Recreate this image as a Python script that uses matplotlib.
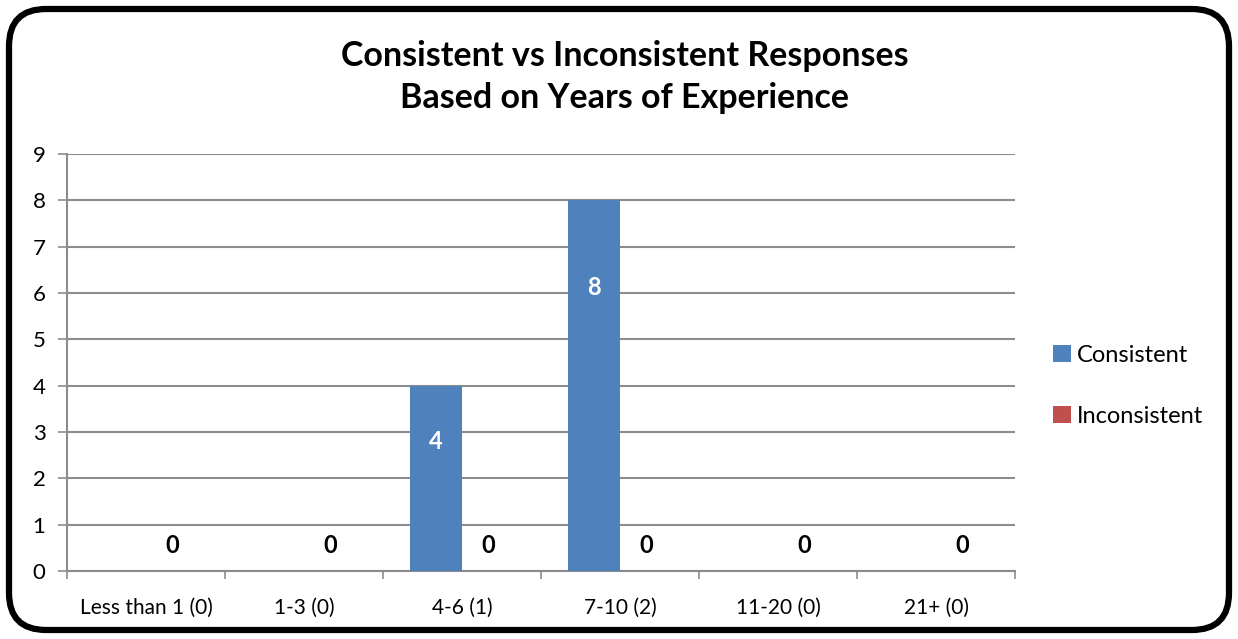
import matplotlib.pyplot as plt
import numpy as np
from matplotlib.patches import FancyBboxPatch

# data
categories = ['Less than 1 (0)', '1-3 (0)', '4-6 (1)', '7-10 (2)', '11-20 (0)', '21+ (0)']
consistent = [0, 0, 4, 8, 0, 0]
inconsistent = [0, 0, 0, 0, 0, 0]
series_names = ['Consistent', 'Inconsistent']

plt.rcParams['font.family'] = ['Lato', 'DejaVu Sans']

fig = plt.figure(figsize=(12.38, 6.39), dpi=100)
ax = fig.add_axes([67 / 1238, 1 - 571 / 639, (1015 - 67) / 1238, (571 - 154) / 639])

x = np.arange(len(categories))
w = 0.33
b1 = ax.bar(x - w / 2, consistent, w, color='#4F81BD', label=series_names[0], zorder=3)
b2 = ax.bar(x + w / 2, inconsistent, w, color='#C0504D', label=series_names[1], zorder=3)

# value labels
for xi, v in zip(x, consistent):
    if v > 0:
        ax.text(xi - w / 2, v * 0.83 - 0.53, str(v), ha='center', va='center',
                color='white', fontsize=17, fontweight='bold', zorder=4)
for xi, v in zip(x, inconsistent):
    ax.text(xi + w / 2, v + 0.56, str(v), ha='center', va='center',
            color='black', fontsize=17, fontweight='bold', zorder=4)

ax.set_xlim(-0.5, len(categories) - 0.5)
ax.set_ylim(0, 9)
ax.set_yticks(range(10))
ax.yaxis.grid(True, color='#8c8c8c', linewidth=1.5, zorder=0)
ax.tick_params(axis='y', length=6.5, width=1.2, color='#8c8c8c', labelsize=16, pad=9)

ax.set_xticks(np.arange(-0.5, len(categories), 1))
ax.set_xticklabels([])
ax.tick_params(axis='x', which='major', length=6, width=1.2, color='#8c8c8c')
ax.set_xticks(x, minor=True)
ax.set_xticklabels(categories, minor=True)
ax.tick_params(axis='x', which='minor', length=0, labelsize=15, pad=19)

for s in ['top', 'right']:
    ax.spines[s].set_visible(False)
for s in ['left', 'bottom']:
    ax.spines[s].set_color('#8c8c8c')
    ax.spines[s].set_linewidth(1.5)

fig.text(625 / 1238, 1 - 77 / 639, 'Consistent vs Inconsistent Responses\nBased on Years of Experience',
         ha='center', va='center', fontsize=24.5, fontweight='bold', linespacing=1.4)

fig.legend(handles=[b1, b2], loc='center left', bbox_to_anchor=(1032 / 1238, 1 - 386 / 639),
           frameon=False, fontsize=17, handlelength=0.75, handleheight=0.75,
           handletextpad=0.25, labelspacing=1.7)

border = FancyBboxPatch((9 / 1238, 9 / 639), 1220 / 1238, 621 / 639,
                        boxstyle='round,pad=0,rounding_size=0.03',
                        transform=fig.transFigure, fill=False, edgecolor='black',
                        linewidth=4.5, mutation_aspect=1238 / 639)
fig.patches.append(border)

fig.savefig('out.png', dpi=100)
